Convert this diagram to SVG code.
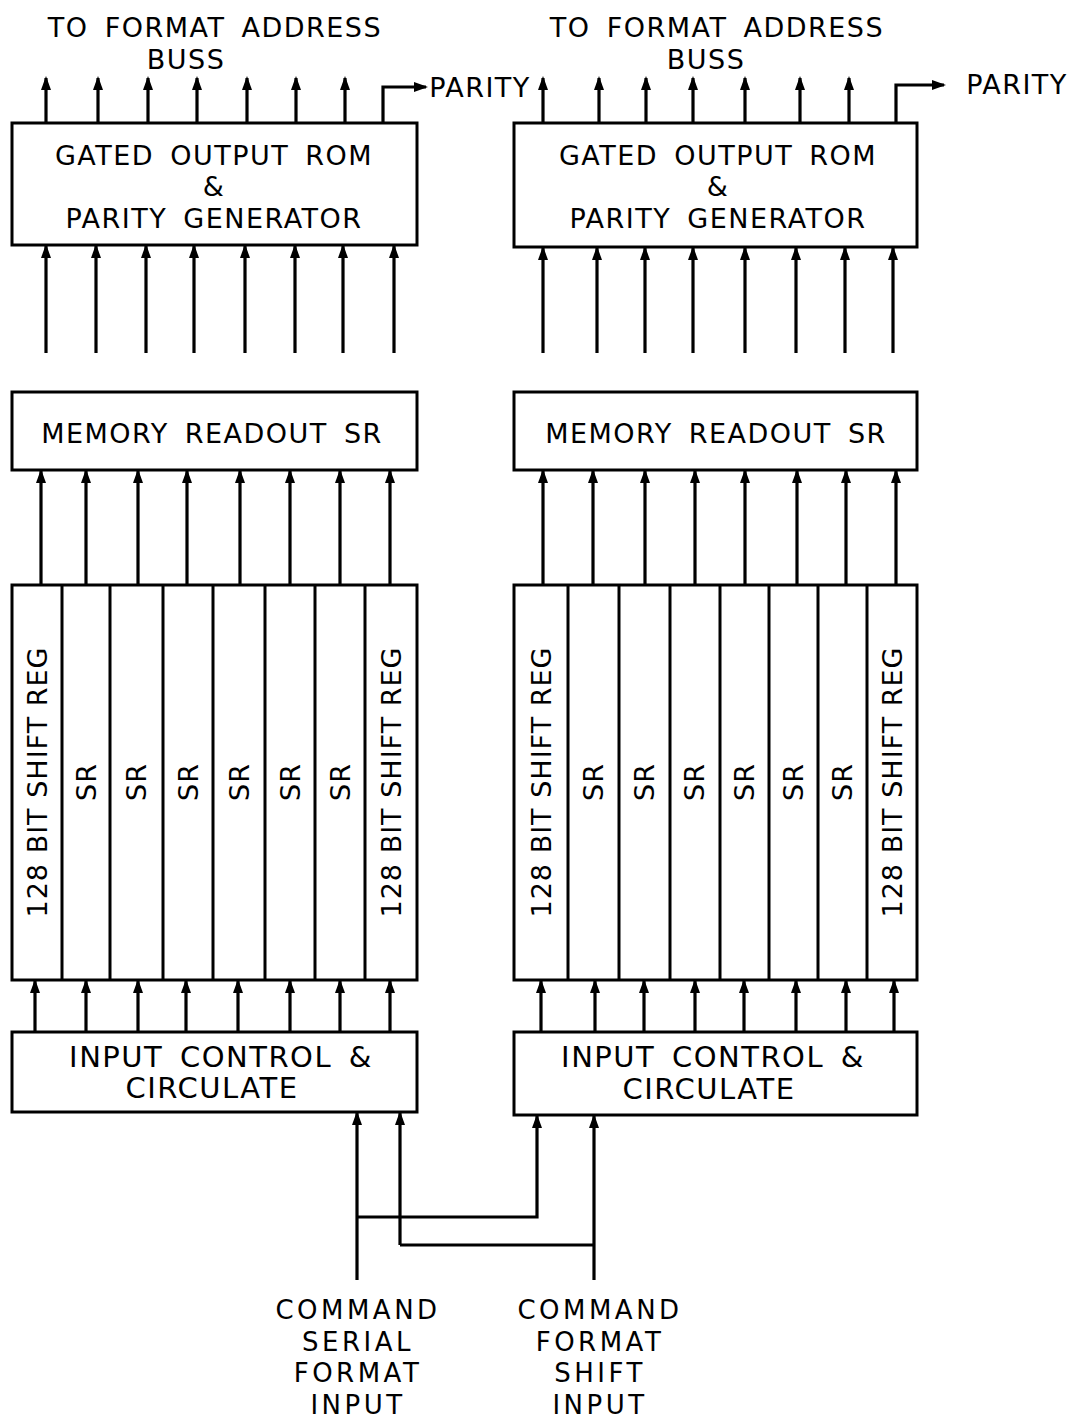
<svg xmlns="http://www.w3.org/2000/svg" width="1074" height="1422" viewBox="0 0 1074 1422">
<style>
.box{fill:#fff;stroke:#000;stroke-width:3}
.ln{fill:none;stroke:#000;stroke-width:3.2;marker-end:url(#ah)}
.pl{fill:none;stroke:#000;stroke-width:3.2}
.dv{stroke:#000;stroke-width:3}
text{font-family:"DejaVu Sans","Liberation Sans",sans-serif;font-size:27px;fill:#000;text-anchor:middle;letter-spacing:1.5px;word-spacing:6px}
.rot{letter-spacing:1px;word-spacing:0}
.ic{font-size:29px}
.cmd{font-size:26px;letter-spacing:3.5px}
</style>
<defs>
<marker id="ah" markerUnits="userSpaceOnUse" markerWidth="14" markerHeight="12" refX="12" refY="5" orient="auto">
<path d="M0,0 L14,5 L0,10 z" fill="#000"/>
</marker>
</defs>
<g id="labels-top">
<text x="215" y="37">TO FORMAT ADDRESS</text>
<text x="186" y="69">BUSS</text>
<text x="717" y="37">TO FORMAT ADDRESS</text>
<text x="706" y="69">BUSS</text>
<text x="480" y="97">PARITY</text>
<text x="1017" y="94">PARITY</text>
</g>
<g id="rom-left">
<rect class="box" x="12" y="123" width="405" height="122"/>
<text x="214" y="165">GATED OUTPUT ROM</text>
<text x="214" y="196">&amp;</text>
<text x="214" y="228">PARITY GENERATOR</text>
</g>
<g id="rom-right">
<rect class="box" x="514" y="123" width="403" height="124"/>
<text x="718" y="165">GATED OUTPUT ROM</text>
<text x="718" y="196">&amp;</text>
<text x="718" y="228">PARITY GENERATOR</text>
</g>
<g id="mem-left">
<rect class="box" x="12" y="392" width="405" height="78"/>
<text x="212" y="443">MEMORY READOUT SR</text>
</g>
<g id="mem-right">
<rect class="box" x="514" y="392" width="403" height="78"/>
<text x="716" y="443">MEMORY READOUT SR</text>
</g>
<g id="sr-left">
<rect class="box" x="12" y="585" width="405" height="395"/>
<line class="dv" x1="62" y1="585" x2="62" y2="980"/>
<line class="dv" x1="110" y1="585" x2="110" y2="980"/>
<line class="dv" x1="163" y1="585" x2="163" y2="980"/>
<line class="dv" x1="213" y1="585" x2="213" y2="980"/>
<line class="dv" x1="265" y1="585" x2="265" y2="980"/>
<line class="dv" x1="315" y1="585" x2="315" y2="980"/>
<line class="dv" x1="365" y1="585" x2="365" y2="980"/>
<text class="rot" transform="translate(47,782) rotate(-90)">128 BIT SHIFT REG</text>
<text class="rot" transform="translate(96,782) rotate(-90)">SR</text>
<text class="rot" transform="translate(146,782) rotate(-90)">SR</text>
<text class="rot" transform="translate(198,782) rotate(-90)">SR</text>
<text class="rot" transform="translate(249,782) rotate(-90)">SR</text>
<text class="rot" transform="translate(300,782) rotate(-90)">SR</text>
<text class="rot" transform="translate(350,782) rotate(-90)">SR</text>
<text class="rot" transform="translate(401,782) rotate(-90)">128 BIT SHIFT REG</text>
</g>
<g id="sr-right">
<rect class="box" x="514" y="585" width="403" height="395"/>
<line class="dv" x1="568" y1="585" x2="568" y2="980"/>
<line class="dv" x1="619" y1="585" x2="619" y2="980"/>
<line class="dv" x1="670" y1="585" x2="670" y2="980"/>
<line class="dv" x1="720" y1="585" x2="720" y2="980"/>
<line class="dv" x1="769" y1="585" x2="769" y2="980"/>
<line class="dv" x1="818" y1="585" x2="818" y2="980"/>
<line class="dv" x1="867" y1="585" x2="867" y2="980"/>
<text class="rot" transform="translate(551,782) rotate(-90)">128 BIT SHIFT REG</text>
<text class="rot" transform="translate(603,782) rotate(-90)">SR</text>
<text class="rot" transform="translate(654,782) rotate(-90)">SR</text>
<text class="rot" transform="translate(704,782) rotate(-90)">SR</text>
<text class="rot" transform="translate(754,782) rotate(-90)">SR</text>
<text class="rot" transform="translate(803,782) rotate(-90)">SR</text>
<text class="rot" transform="translate(852,782) rotate(-90)">SR</text>
<text class="rot" transform="translate(902,782) rotate(-90)">128 BIT SHIFT REG</text>
</g>
<g id="ic-left">
<rect class="box" x="12" y="1032" width="405" height="80"/>
<text class="ic" x="221" y="1067">INPUT CONTROL &amp;</text>
<text class="ic" x="212" y="1098">CIRCULATE</text>
</g>
<g id="ic-right">
<rect class="box" x="514" y="1032" width="403" height="83"/>
<text class="ic" x="713" y="1067">INPUT CONTROL &amp;</text>
<text class="ic" x="709" y="1099">CIRCULATE</text>
</g>
<g id="labels-bottom">
<text class="cmd" x="358" y="1319">COMMAND</text>
<text class="cmd" x="358" y="1351">SERIAL</text>
<text class="cmd" x="358" y="1382">FORMAT</text>
<text class="cmd" x="358" y="1414">INPUT</text>
<text class="cmd" x="600" y="1319">COMMAND</text>
<text class="cmd" x="600" y="1351">FORMAT</text>
<text class="cmd" x="600" y="1382">SHIFT</text>
<text class="cmd" x="600" y="1414">INPUT</text>
</g>
<g id="connectors">
<line class="ln" x1="46" y1="123" x2="46" y2="78"/>
<line class="ln" x1="98" y1="123" x2="98" y2="78"/>
<line class="ln" x1="148" y1="123" x2="148" y2="78"/>
<line class="ln" x1="197" y1="123" x2="197" y2="78"/>
<line class="ln" x1="247" y1="123" x2="247" y2="78"/>
<line class="ln" x1="296" y1="123" x2="296" y2="78"/>
<line class="ln" x1="345" y1="123" x2="345" y2="78"/>
<path class="ln" d="M383,123 V87 H426"/>
<line class="ln" x1="543" y1="123" x2="543" y2="78"/>
<line class="ln" x1="599" y1="123" x2="599" y2="78"/>
<line class="ln" x1="646" y1="123" x2="646" y2="78"/>
<line class="ln" x1="693" y1="123" x2="693" y2="78"/>
<line class="ln" x1="745" y1="123" x2="745" y2="78"/>
<line class="ln" x1="800" y1="123" x2="800" y2="78"/>
<line class="ln" x1="849" y1="123" x2="849" y2="78"/>
<path class="ln" d="M896,123 V85 H944"/>
<line class="ln" x1="46" y1="353" x2="46" y2="246"/>
<line class="ln" x1="96" y1="353" x2="96" y2="246"/>
<line class="ln" x1="146" y1="353" x2="146" y2="246"/>
<line class="ln" x1="194" y1="353" x2="194" y2="246"/>
<line class="ln" x1="245" y1="353" x2="245" y2="246"/>
<line class="ln" x1="295" y1="353" x2="295" y2="246"/>
<line class="ln" x1="343" y1="353" x2="343" y2="246"/>
<line class="ln" x1="394" y1="353" x2="394" y2="246"/>
<line class="ln" x1="543" y1="353" x2="543" y2="248"/>
<line class="ln" x1="597" y1="353" x2="597" y2="248"/>
<line class="ln" x1="645" y1="353" x2="645" y2="248"/>
<line class="ln" x1="693" y1="353" x2="693" y2="248"/>
<line class="ln" x1="745" y1="353" x2="745" y2="248"/>
<line class="ln" x1="796" y1="353" x2="796" y2="248"/>
<line class="ln" x1="845" y1="353" x2="845" y2="248"/>
<line class="ln" x1="893" y1="353" x2="893" y2="248"/>
<line class="ln" x1="41" y1="585" x2="41" y2="471"/>
<line class="ln" x1="86" y1="585" x2="86" y2="471"/>
<line class="ln" x1="138" y1="585" x2="138" y2="471"/>
<line class="ln" x1="187" y1="585" x2="187" y2="471"/>
<line class="ln" x1="240" y1="585" x2="240" y2="471"/>
<line class="ln" x1="290" y1="585" x2="290" y2="471"/>
<line class="ln" x1="340" y1="585" x2="340" y2="471"/>
<line class="ln" x1="390" y1="585" x2="390" y2="471"/>
<line class="ln" x1="543" y1="585" x2="543" y2="471"/>
<line class="ln" x1="593" y1="585" x2="593" y2="471"/>
<line class="ln" x1="645" y1="585" x2="645" y2="471"/>
<line class="ln" x1="695" y1="585" x2="695" y2="471"/>
<line class="ln" x1="745" y1="585" x2="745" y2="471"/>
<line class="ln" x1="797" y1="585" x2="797" y2="471"/>
<line class="ln" x1="846" y1="585" x2="846" y2="471"/>
<line class="ln" x1="896" y1="585" x2="896" y2="471"/>
<line class="ln" x1="35" y1="1032" x2="35" y2="981"/>
<line class="ln" x1="86" y1="1032" x2="86" y2="981"/>
<line class="ln" x1="138" y1="1032" x2="138" y2="981"/>
<line class="ln" x1="186" y1="1032" x2="186" y2="981"/>
<line class="ln" x1="238" y1="1032" x2="238" y2="981"/>
<line class="ln" x1="290" y1="1032" x2="290" y2="981"/>
<line class="ln" x1="340" y1="1032" x2="340" y2="981"/>
<line class="ln" x1="390" y1="1032" x2="390" y2="981"/>
<line class="ln" x1="541" y1="1032" x2="541" y2="981"/>
<line class="ln" x1="595" y1="1032" x2="595" y2="981"/>
<line class="ln" x1="644" y1="1032" x2="644" y2="981"/>
<line class="ln" x1="695" y1="1032" x2="695" y2="981"/>
<line class="ln" x1="744" y1="1032" x2="744" y2="981"/>
<line class="ln" x1="796" y1="1032" x2="796" y2="981"/>
<line class="ln" x1="846" y1="1032" x2="846" y2="981"/>
<line class="ln" x1="894" y1="1032" x2="894" y2="981"/>
<line class="ln" x1="357" y1="1280" x2="357" y2="1113"/>
<line class="ln" x1="400" y1="1245" x2="400" y2="1113"/>
<path class="ln" d="M357,1217 H537 V1116"/>
<path class="pl" d="M400,1245 H594"/>
<line class="ln" x1="594" y1="1280" x2="594" y2="1116"/>
</g>
</svg>
